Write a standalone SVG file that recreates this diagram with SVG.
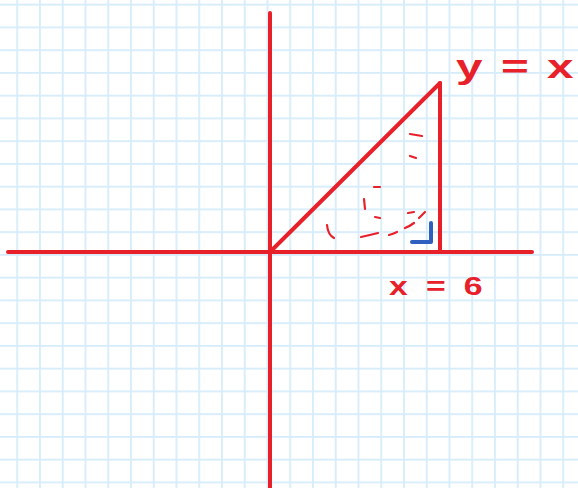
<svg xmlns="http://www.w3.org/2000/svg" width="578" height="488" viewBox="0 0 578 488">
<defs>
<pattern id="grid" patternUnits="userSpaceOnUse" x="16.3" y="3.7" width="22.75" height="22.75">
<rect x="0" y="0" width="1.8" height="22.75" fill="#d6ecfa"/>
<rect x="0" y="0" width="22.75" height="1.8" fill="#d6ecfa"/>
</pattern>
</defs>
<style>
.ax{stroke:#e8202a;stroke-width:4;stroke-linecap:round;fill:none}
.ds{stroke:#e8202a;stroke-width:2.2;stroke-linecap:round;fill:none}
.bl{stroke:#2f5fbf;stroke-width:4;stroke-linecap:round;stroke-linejoin:round;fill:none}
.lb{fill:#e8202a;font-family:"Liberation Sans",Arial,sans-serif;font-weight:bold}
</style>
<rect width="578" height="488" fill="#ffffff"/>
<rect width="578" height="488" fill="url(#grid)"/>
<g id="axes">
<line class="ax" x1="8" y1="252" x2="532" y2="252"/>
<line class="ax" x1="270" y1="13" x2="270" y2="488"/>
</g>
<g id="triangle">
<line class="ax" x1="270" y1="252" x2="440" y2="83"/>
<line class="ax" x1="440" y1="83" x2="440" y2="252"/>
</g>
<g id="marks">
<path class="ds" d="M410,134 L422,136"/>
<path class="ds" d="M410,156 L416,158"/>
<path class="ds" d="M374,187 L380,187"/>
<path class="ds" d="M364,199 L365,209"/>
<path class="ds" d="M375,217 L380,218"/>
<path class="ds" d="M408,213 L414,212"/>
<path class="ds" d="M425,212 L419,218"/>
<path class="ds" d="M327,225 Q328,235 334,238"/>
<path class="ds" d="M361,237 Q370,235 378,233"/>
<path class="ds" d="M389,235 Q393,234 397,232"/>
<path class="ds" d="M405,228 Q410,226 414,223"/>
<path class="bl" d="M431,223 L431,242 L412,242"/>
</g>
<g id="labels">
<text class="lb" transform="translate(456,78) scale(1.4,1)" font-size="34" textLength="84" lengthAdjust="spacing">y = x</text>
<text class="lb" transform="translate(389,295) scale(1.3,1)" font-size="26" textLength="72" lengthAdjust="spacing">x = 6</text>
</g>
</svg>
